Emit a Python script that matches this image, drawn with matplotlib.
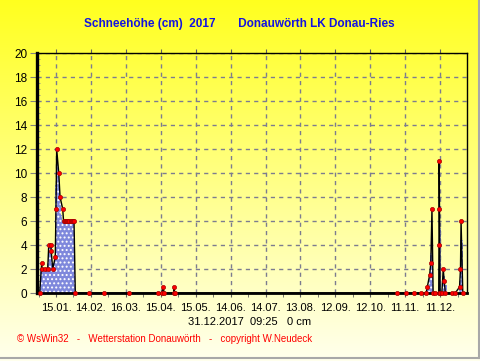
import numpy as np
import matplotlib
matplotlib.use('Agg')
import matplotlib.pyplot as plt
from matplotlib.lines import Line2D
from matplotlib.ticker import MultipleLocator, FixedLocator

plt.rcParams['font.family'] = ['Liberation Sans', 'DejaVu Sans']
plt.rcParams['hatch.linewidth'] = 0.9

# individual snow readings (day of year, cm)
reading_days = [1, 2.75, 2.9, 5.6, 7.9, 8.8, 10.6, 10.9, 12.2, 14.4, 15.0, 15.6,
                17.4, 18.5, 20.8, 21.5, 22.5, 23.5, 24.5, 25.5, 26.5, 27.5, 28.5,
                29.5, 30.5, 31.6, 43, 56, 78, 103, 106, 107, 108, 116, 116.5, 117,
                307.7, 315.5, 322.6, 329, 333, 334, 336, 337, 338, 339, 341,
                343.8, 344.0, 344.1, 344.2, 345, 346.5, 347.7, 348.5, 349.5,
                355, 358, 361.7, 362.5, 363, 364.5]
reading_values = [0, 2.5, 2, 2, 2, 4, 4, 3.5, 2, 3, 7, 12,
                  10, 8, 7, 6, 6, 6, 6, 6, 6, 6, 6,
                  6, 6, 0, 0, 0, 0, 0, 0, 0.5, 0, 0, 0.5, 0,
                  0, 0, 0, 0, 0, 0.5, 1.5, 2.5, 7, 0, 0,
                  0, 4, 7, 11, 0, 0, 2, 1, 0,
                  0, 0, 0.5, 2, 6, 0]

# daily fill (day of year, cm)
bar_days = [2, 3, 4, 5, 6, 7, 8, 9, 10, 11, 12, 13, 14, 15, 16, 17, 18, 19, 20,
            21, 22, 23, 24, 25, 26, 27, 28, 29, 30, 31,
            334, 335, 336, 337, 338, 345, 348, 349, 350, 362, 363, 364]
bar_values = [2, 2, 2, 2, 2, 2, 2.5, 4, 4, 3.8, 2.5, 2.5, 2.8, 9, 11.5, 10.5, 9, 7.5, 6.5,
              6, 6, 6, 6, 6, 6, 6, 6, 6, 6, 3,
              0.5, 0.5, 1.5, 3.3, 3.3, 5.4, 1.4, 1.4, 0.7, 1, 4.4, 4.4]

tick_days = [15, 45, 75, 105, 135, 165, 195, 225, 255, 285, 315, 345]
tick_labels = ['15.01.', '14.02.', '16.03.', '15.04.', '15.05.', '14.06.',
               '14.07.', '13.08.', '12.09.', '12.10.', '11.11.', '11.12.']
y_ticks = list(range(0, 21, 2))

W, H = 481, 361
fig = plt.figure(figsize=(W / 100, H / 100), dpi=100)

# gradient background
bg = fig.add_axes([0, 0, 1, 1], zorder=-10)
g = np.linspace(0, 1, 256)[:, None]
top = np.array([1.0, 1.0, 0.12])
bot = np.array([1.0, 1.0, 0.93])
img = top[None, :] * (1 - g) + bot[None, :] * g
bg.imshow(img[:, None, :], aspect='auto', extent=[0, 1, 0, 1])
bg.set_xlim(0, 1); bg.set_ylim(0, 1)
bg.axis('off')

fig.add_artist(Line2D([479.5 / W, 479.5 / W], [3 / H, 1], color='#a8a8a8', lw=1.5,
                      transform=fig.transFigure))
fig.add_artist(Line2D([0, 480 / W], [3.5 / H, 3.5 / H], color='#a8a8a8', lw=1.5,
                      transform=fig.transFigure))

ax = fig.add_axes([37 / W, 68 / H, 430 / W, 240 / H])
ax.set_facecolor('none')
ax.set_xlim(-1.3, 368.1)
ax.set_ylim(0, 20)
ax.set_axisbelow(True)

ax.bar(bar_days, bar_values, width=1.0, color='#7f88dc', hatch='....',
       edgecolor='white', linewidth=0, zorder=2)
ax.plot(reading_days, reading_values, color='black', lw=1, zorder=3)
ax.plot(reading_days, reading_values, linestyle='none', marker='o', ms=3.0,
        mfc='#ff0000', mec='#a00000', mew=0.5, zorder=5, clip_on=False)

ax.set_xticks(tick_days)
ax.set_xticklabels(tick_labels)
ax.xaxis.set_minor_locator(FixedLocator([0, 30, 60, 90, 120, 150, 180, 210, 240, 270, 300, 330, 360]))
ax.set_yticks(y_ticks)
ax.yaxis.set_minor_locator(MultipleLocator(0.5))

ax.grid(True, which='major', color='#7c7c90', linestyle=(0, (3, 3)), lw=1)
ax.tick_params(axis='x', which='major', direction='out', length=3, top=True,
               labelsize=8, color='#606060', pad=4)
ax.tick_params(axis='x', which='minor', direction='out', length=3, color='#606060')
ax.tick_params(axis='y', which='major', direction='out', length=5, color='#808080',
               labelsize=8.5, pad=2)
ax.tick_params(axis='y', which='minor', direction='in', length=2, color='#909090')

for s in ['top', 'right']:
    ax.spines[s].set_linewidth(1.0)
ax.spines['left'].set_linewidth(2.4)
ax.spines['bottom'].set_linewidth(2.0)

fig.text(0.497, 1 - 24 / H, 'Schneehöhe (cm)  2017       Donauwörth LK Donau-Ries',
         ha='center', va='center', color='#1414e0', fontsize=8.5, fontweight='bold')
fig.text(250 / W, 1 - 322 / H, '31.12.2017  09:25   0 cm', ha='center', va='center',
         fontsize=8, color='black')
fig.text(17 / W, 1 - 339.5 / H,
         '© WsWin32   -   Wetterstation Donauwörth   -   copyright W.Neudeck',
         ha='left', va='center', fontsize=7, color='#ff0000')

fig.savefig('out.png', dpi=100)
